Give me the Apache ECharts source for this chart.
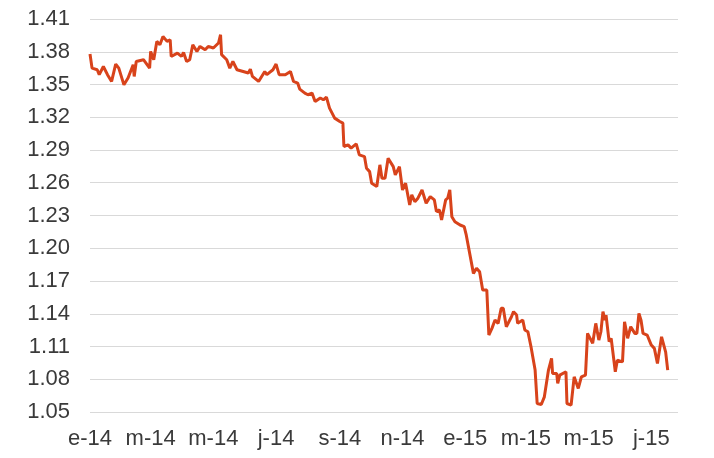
<!DOCTYPE html>
<html>
<head>
<meta charset="utf-8">
<script src="https://cdn.jsdelivr.net/npm/echarts@6/dist/echarts.min.js"></script>
<style>
  html, body { margin: 0; padding: 0; background: #fff; }
  #chart { width: 714px; height: 458px; }
</style>
</head>
<body>
<div id="chart"></div>
<script>
// días transcurridos desde el 1 de enero de 2014
const days = [
  0, 2, 7, 9, 13, 17, 21, 25, 28, 33, 37, 42, 43, 45, 52, 58, 59, 62, 65, 68,
  71, 75, 78, 79, 85, 89, 91, 94, 97, 100, 104, 107, 112, 115, 120, 125, 127, 128, 133, 136,
  139, 143, 149, 154, 156, 158, 164, 170, 172, 178, 181, 184, 190, 195, 198, 202, 204, 209, 212, 216,
  219, 224, 227, 230, 233, 238, 243, 246, 247, 251, 254, 259, 262, 267, 269, 272, 274, 279, 282, 284,
  287, 290, 295, 297, 301, 304, 307, 311, 313, 316, 319, 323, 327, 331, 335, 337, 340, 342, 346, 348,
  350, 352, 355, 360, 364, 366, 373, 376, 379, 382, 386, 388, 391, 394, 397, 400, 402, 405, 410, 412,
  415, 416, 421, 423, 426, 429, 433, 435, 439, 442, 446, 449, 450, 454, 455, 457, 463, 464, 468, 471,
  475, 478, 482, 484, 489, 492, 495, 497, 499, 501, 502, 505, 507, 511, 513, 518, 520, 523, 526, 530,
  532, 534, 536, 538, 542, 546, 549, 552, 556, 560, 562
];

// tipo de cambio EUR/USD
const rates = [
  1.378, 1.365, 1.3635, 1.359, 1.3665, 1.359, 1.3528, 1.3687, 1.365, 1.3497, 1.3559, 1.3681, 1.3574, 1.3711, 1.3727, 1.365, 1.3803, 1.3727, 1.3895, 1.3864,
  1.394, 1.3895, 1.391, 1.3757, 1.3788, 1.3757, 1.3794, 1.3711, 1.3727, 1.3864, 1.3803, 1.3849, 1.3818, 1.3849, 1.3834, 1.388, 1.3956, 1.3773, 1.3727, 1.365,
  1.3711, 1.3635, 1.3619, 1.3605, 1.3641, 1.3574, 1.3528, 1.3619, 1.359, 1.3635, 1.3687, 1.359, 1.359, 1.3619, 1.3528, 1.3513, 1.3458, 1.3421, 1.3406, 1.3421,
  1.3344, 1.3376, 1.336, 1.3385, 1.3284, 1.3192, 1.3161, 1.3146, 1.2932, 1.2947, 1.2917, 1.2956, 1.2856, 1.284, 1.2733, 1.2702, 1.2596, 1.2565, 1.2764, 1.2642,
  1.2642, 1.2825, 1.2748, 1.2672, 1.2748, 1.2534, 1.2596, 1.2397, 1.2489, 1.2427, 1.2459, 1.2534, 1.2412, 1.2473, 1.2443, 1.2336, 1.2351, 1.2259, 1.2443, 1.2459,
  1.2534, 1.2289, 1.2243, 1.2213, 1.2198, 1.2122, 1.177, 1.1817, 1.1785, 1.1618, 1.1618, 1.1205, 1.1266, 1.1342, 1.1312, 1.145, 1.145, 1.1281, 1.1373, 1.1419,
  1.1388, 1.1312, 1.1342, 1.1251, 1.1235, 1.1098, 1.0884, 1.0578, 1.0569, 1.0639, 1.0884, 1.0991, 1.0853, 1.0853, 1.0762, 1.0838, 1.0869, 1.0578, 1.0563, 1.0822,
  1.0716, 1.0822, 1.0838, 1.122, 1.1129, 1.1312, 1.1159, 1.1235, 1.1419, 1.1342, 1.1388, 1.1144, 1.1175, 1.0869, 1.0975, 1.0959, 1.1326, 1.1175, 1.1281, 1.122,
  1.122, 1.1404, 1.1342, 1.122, 1.1205, 1.1113, 1.1083, 1.0945, 1.1189, 1.1048, 1.0884
];

// etiquetas del eje x (cada dos meses)
const tickDays = [0, 59, 120, 181, 243, 304, 365, 424, 485, 546];
const tickLabels = ['e-14', 'm-14', 'm-14', 'j-14', 's-14', 'n-14', 'e-15', 'm-15', 'm-15', 'j-15'];

const seriesData = days.map((d, i) => [d, rates[i]]);

const chart = echarts.init(document.getElementById('chart'));
chart.setOption({
  animation: false,
  grid: { left: 90, right: 36, top: 19, bottom: 46, containLabel: false },
  xAxis: {
    type: 'value',
    min: 0,
    max: 572,
    axisLine: { show: false },
    axisTick: { show: false },
    splitLine: { show: false },
    axisLabel: {
      customValues: tickDays,
      formatter: v => tickLabels[tickDays.indexOf(v)],
      color: '#3a3a3a',
      fontFamily: 'Liberation Sans',
      fontSize: 22,
      margin: 16
    }
  },
  yAxis: {
    type: 'value',
    min: 1.05,
    max: 1.41,
    interval: 0.03,
    axisLine: { show: false },
    axisTick: { show: false },
    splitLine: { lineStyle: { color: '#d9d9d9', width: 1 } },
    axisLabel: {
      formatter: v => v.toFixed(2),
      color: '#3a3a3a',
      fontFamily: 'Liberation Sans',
      fontSize: 22,
      margin: 20
    }
  },
  series: [{
    type: 'line',
    data: seriesData,
    showSymbol: false,
    lineStyle: { color: '#d8431b', width: 3 },
    itemStyle: { color: '#d8431b' }
  }]
});
</script>
</body>
</html>
